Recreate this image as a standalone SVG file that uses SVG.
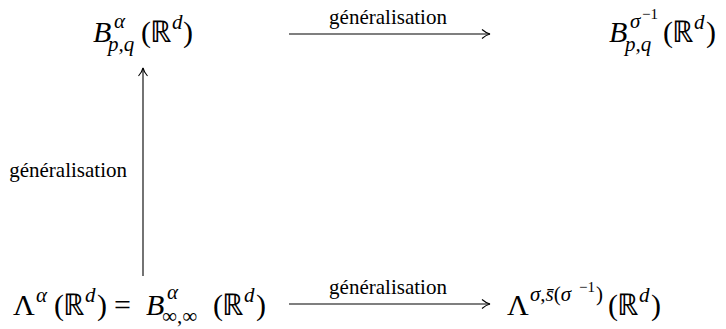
<svg xmlns="http://www.w3.org/2000/svg" width="726" height="329" viewBox="0 0 726 329">
<defs>
<style>
.m{font-size:30px}
.s{font-size:21px}
.ss{font-size:15px}
.inf{font-size:21px}
.i{font-style:italic}
.lbl{font-size:21px}
.ln{stroke:#000;stroke-width:1.1;fill:none}
</style>
<marker id="ah" viewBox="0 0 10 10" refX="9" refY="5" markerWidth="10" markerHeight="10" markerUnits="userSpaceOnUse" orient="auto">
<path d="M1,0.5 Q5,4 9,5 Q5,6 1,9.5" fill="none" stroke="#000" stroke-width="1.1"/>
</marker>
</defs>
<rect width="726" height="329" fill="#fff"/>
<g id="n1" font-family="Liberation Serif, serif" fill="#000">
<text class="m i" x="93" y="42">B</text>
<text class="s i" x="114" y="28">α</text>
<text class="s i" x="108" y="51">p,q</text>
<text class="m" x="141" y="42">(</text>
<text class="m" x="150" y="42">ℝ</text>
<text class="s i" x="172" y="29">d</text>
<text class="m" x="183" y="42">)</text>
</g>
<g id="n2" font-family="Liberation Serif, serif" fill="#000">
<text class="m i" x="609" y="42">B</text>
<text class="s i" x="630" y="28">σ</text>
<text class="ss" x="642" y="19">−1</text>
<text class="s i" x="625" y="51">p,q</text>
<text class="m" x="663" y="42">(</text>
<text class="m" x="672" y="42">ℝ</text>
<text class="s i" x="694" y="29">d</text>
<text class="m" x="706" y="42">)</text>
</g>
<g id="n3" font-family="Liberation Serif, serif" fill="#000">
<text class="m" x="13" y="315">Λ</text>
<text class="s i" x="36" y="302">α</text>
<text class="m" x="54" y="315">(</text>
<text class="m" x="63" y="315">ℝ</text>
<text class="s i" x="85" y="302">d</text>
<text class="m" x="97" y="315">)</text>
<text class="m" x="114" y="315">=</text>
<text class="m i" x="146" y="315">B</text>
<text class="s i" x="167" y="299">α</text>
<text class="inf" x="162" y="323">∞,∞</text>
<text class="m" x="213" y="315">(</text>
<text class="m" x="222" y="315">ℝ</text>
<text class="s i" x="244" y="302">d</text>
<text class="m" x="256" y="315">)</text>
</g>
<g id="n4" font-family="Liberation Serif, serif" fill="#000">
<text class="m" x="507" y="315">Λ</text>
<text class="s" x="530" y="301"><tspan class="i">σ</tspan>,<tspan class="i">s̄</tspan>(<tspan class="i">σ</tspan></text>
<text class="ss" x="579" y="292">−1</text>
<text class="s" x="596" y="301">)</text>
<text class="m" x="608" y="315">(</text>
<text class="m" x="617" y="315">ℝ</text>
<text class="s i" x="639" y="302">d</text>
<text class="m" x="651" y="315">)</text>
</g>
<g id="connectors">
<line class="ln" x1="289" y1="34" x2="490" y2="34" marker-end="url(#ah)"/>
<line class="ln" x1="143" y1="276" x2="143" y2="68" marker-end="url(#ah)"/>
<line class="ln" x1="289" y1="304" x2="490" y2="304" marker-end="url(#ah)"/>
<g font-family="Liberation Serif, serif" fill="#000">
<text class="lbl" x="388" y="24" text-anchor="middle">généralisation</text>
<text class="lbl" x="127" y="177" text-anchor="end">généralisation</text>
<text class="lbl" x="388" y="294" text-anchor="middle">généralisation</text>
</g>
</g>
</svg>
